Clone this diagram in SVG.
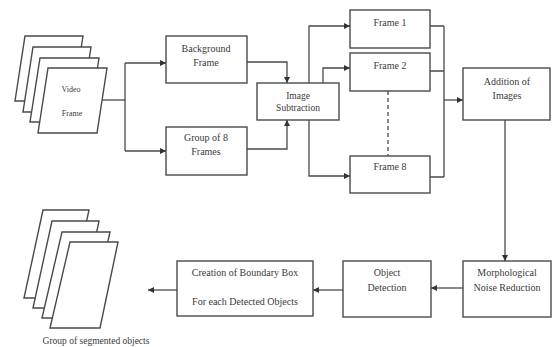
<svg xmlns="http://www.w3.org/2000/svg" width="552" height="347" viewBox="0 0 552 347">
<defs>
<style>
.box{fill:#fff;stroke:#4a4a4a;stroke-width:1.4}
.pg{fill:#fff;stroke:#4a4a4a;stroke-width:1.4;stroke-linejoin:miter}
.ln{fill:none;stroke:#4a4a4a;stroke-width:1.3}
.t{font-family:"Liberation Serif",serif;font-size:10px;fill:#3a3a3a;text-anchor:middle}
.s{font-size:8px}
</style>
<marker id="ah" markerUnits="userSpaceOnUse" markerWidth="7" markerHeight="7" refX="6" refY="3" orient="auto">
<path d="M0,0 L6,3 L0,6 z" fill="#333"/>
</marker>
</defs>
<rect width="552" height="347" fill="#fff"/>

<g id="video-frames">
<polygon class="pg" points="25,36 83,36 73,101 15,101"/>
<polygon class="pg" points="33,47 91,47 81,112 23,112"/>
<polygon class="pg" points="40,58 99,58 89,122 30,122"/>
<polygon class="pg" points="48,68 107,68 97,133 38,133"/>
<text class="t s" x="71" y="92">Video</text>
<text class="t s" x="72" y="116">Frame</text>
</g>

<g id="background-frame">
<rect class="box" x="166" y="36" width="81" height="47"/>
<text class="t" x="206" y="52">Background</text>
<text class="t" x="206" y="66">Frame</text>
</g>

<g id="group-frames">
<rect class="box" x="166" y="127" width="81" height="48"/>
<text class="t" x="206" y="141">Group of 8</text>
<text class="t" x="206" y="155">Frames</text>
</g>

<g id="image-subtraction">
<rect class="box" x="257" y="83" width="82" height="37"/>
<text class="t" style="font-size:9.5px" x="298" y="99">Image</text>
<text class="t" style="font-size:9.5px" x="298" y="111">Subtraction</text>
</g>

<g id="frame1">
<rect class="box" x="350" y="10" width="80" height="38"/>
<text class="t" x="390" y="26">Frame 1</text>
</g>

<g id="frame2">
<rect class="box" x="350" y="53" width="80" height="38"/>
<text class="t" x="390" y="69">Frame 2</text>
</g>

<g id="frame8">
<rect class="box" x="350" y="156" width="80" height="37"/>
<text class="t" x="390" y="170">Frame 8</text>
</g>

<g id="addition">
<rect class="box" x="463" y="68" width="87" height="52"/>
<text class="t" x="507" y="85">Addition of</text>
<text class="t" x="507" y="99">Images</text>
</g>

<g id="morphological">
<rect class="box" x="463" y="261" width="88" height="56"/>
<text class="t" x="507" y="276">Morphological</text>
<text class="t" x="507" y="291">Noise Reduction</text>
</g>

<g id="object-detection">
<rect class="box" x="343" y="261" width="88" height="56"/>
<text class="t" x="387" y="276">Object</text>
<text class="t" x="387" y="291">Detection</text>
</g>

<g id="creation">
<rect class="box" x="177" y="261" width="136" height="55"/>
<text class="t" x="245" y="276">Creation of Boundary Box</text>
<text class="t" x="245" y="305">For each Detected Objects</text>
</g>

<g id="segmented-objects">
<polygon class="pg" points="43,210 89,210 70,298 24,298"/>
<polygon class="pg" points="52,221 99,221 81,308 33,308"/>
<polygon class="pg" points="62,232 110,232 91,318 42,318"/>
<polygon class="pg" points="70,242 118,242 100,328 50,328"/>
<text class="t" x="96" y="344" style="font-size:9.5px">Group of segmented objects</text>
</g>

<g id="connectors">
<path class="ln" d="M102,100 H125"/>
<path class="ln" d="M125,63 V151"/>
<path class="ln" d="M125,63 H166" marker-end="url(#ah)"/>
<path class="ln" d="M125,151 H166" marker-end="url(#ah)"/>
<path class="ln" d="M247,62 H287 V83" marker-end="url(#ah)"/>
<path class="ln" d="M247,149 H287 V120" marker-end="url(#ah)"/>
<path class="ln" d="M309,83 V26 H350" marker-end="url(#ah)"/>
<path class="ln" d="M323,83 V68 H350" marker-end="url(#ah)"/>
<path class="ln" d="M309,120 V176 H350" marker-end="url(#ah)"/>
<path class="ln" d="M388,91 V156" stroke-dasharray="4,3"/>
<path class="ln" d="M430,26 H444 M430,71 H444 M430,177 H444 M444,26 V177"/>
<path class="ln" d="M444,100 H463" marker-end="url(#ah)"/>
<path class="ln" d="M505,120 V261" marker-end="url(#ah)"/>
<path class="ln" d="M463,288 H431" marker-end="url(#ah)"/>
<path class="ln" d="M343,290 H313" marker-end="url(#ah)"/>
<path class="ln" d="M177,290 H148" marker-end="url(#ah)"/>
</g>
</svg>
